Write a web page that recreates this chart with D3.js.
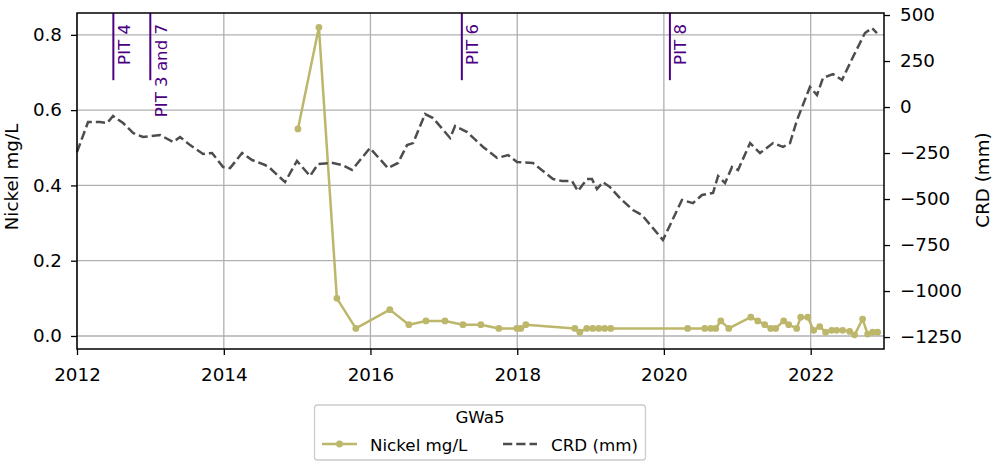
<!DOCTYPE html>
<html>
<head>
<meta charset="utf-8">
<script src="https://cdn.jsdelivr.net/npm/d3@7"></script>
<style>
	body { margin: 0; background: #fff; }
	svg text { font-family: "DejaVu Sans", sans-serif; }
	.axis path.domain { display: none; }
	.axis line { stroke: #000; stroke-width: 1.3; }
	.axis text { font-size: 18.3px; fill: #000; }
</style>
</head>
<body>
<svg id="svg_chart"></svg>
<script>

// ====================================================
// data (decimal years)
var nickel_years = [2015.011, 2015.297, 2015.542, 2015.801, 2016.264, 2016.523, 2016.755, 2017.014,
	2017.259, 2017.504, 2017.749, 2017.995, 2018.049, 2018.117, 2018.785, 2018.853, 2018.948,
	2019.030, 2019.112, 2019.193, 2019.275, 2020.324, 2020.556, 2020.638, 2020.706, 2020.774,
	2020.883, 2021.183, 2021.278, 2021.373, 2021.455, 2021.523, 2021.632, 2021.700, 2021.809,
	2021.864, 2021.959, 2022.041, 2022.123, 2022.204, 2022.286, 2022.354, 2022.436, 2022.531,
	2022.599, 2022.708, 2022.777, 2022.845, 2022.913];
var nickel_values = [0.55, 0.82, 0.10, 0.02, 0.07, 0.03, 0.04, 0.04,
	0.03, 0.03, 0.02, 0.02, 0.02, 0.03, 0.02, 0.01, 0.02,
	0.02, 0.02, 0.02, 0.02, 0.02, 0.02, 0.02, 0.02, 0.04,
	0.02, 0.05, 0.04, 0.03, 0.02, 0.02, 0.04, 0.03, 0.02,
	0.05, 0.05, 0.015, 0.025, 0.01, 0.015, 0.015, 0.015, 0.012,
	0.003, 0.045, 0.005, 0.01, 0.01];

var crd_years = [2012.000, 2012.150, 2012.313, 2012.409, 2012.491, 2012.627, 2012.763, 2012.899,
	2013.131, 2013.308, 2013.404, 2013.540, 2013.717, 2013.840, 2013.990, 2014.085, 2014.249,
	2014.385, 2014.562, 2014.630, 2014.835, 2014.998, 2015.176, 2015.285, 2015.489, 2015.612,
	2015.748, 2015.993, 2016.239, 2016.375, 2016.498, 2016.580, 2016.743, 2016.852, 2017.084,
	2017.152, 2017.316, 2017.534, 2017.725, 2017.875, 2017.997, 2018.215, 2018.488, 2018.610,
	2018.747, 2018.828, 2018.951, 2019.019, 2019.087, 2019.169, 2019.265, 2019.401, 2019.578,
	2019.701, 2019.851, 2019.987, 2020.246, 2020.396, 2020.519, 2020.669, 2020.737, 2020.832,
	2020.927, 2021.009, 2021.173, 2021.309, 2021.486, 2021.622, 2021.718, 2021.813, 2021.990,
	2022.086, 2022.168, 2022.304, 2022.427, 2022.577, 2022.740, 2022.836, 2022.904];
var crd_values = [-245, -82, -82, -87, -49, -87, -141, -163,
	-152, -190, -163, -207, -255, -250, -326, -332, -250,
	-288, -315, -332, -408, -293, -375, -310, -304, -315,
	-342, -223, -332, -304, -207, -196, -38, -60, -168,
	-103, -136, -217, -277, -261, -299, -304, -391, -402,
	-402, -457, -391, -391, -446, -408, -435, -495, -560,
	-587, -658, -723, -505, -522, -478, -467, -375, -413,
	-326, -342, -196, -250, -196, -217, -196, -71, 109,
	65, 158, 179, 147, 272, 402, 429, 402];

var pit_dates = ["2012-06-30", "2012-12-31", "2017-03-31", "2020-01-31"];
var pit_labels = ["PIT 4", "PIT 3 and 7", "PIT 6", "PIT 8"];

var x_tick_years = [2012, 2014, 2016, 2018, 2020, 2022];
var nickel_ticks = [0.0, 0.2, 0.4, 0.6, 0.8];
var crd_ticks = [-1250, -1000, -750, -500, -250, 0, 250, 500];

var series_title = "GWa5";
var nickel_name = "Nickel mg/L";
var crd_name = "CRD (mm)";

// ====================================================

function fn_dec_year(v) {
	var y = Math.floor(v);
	var s = new Date(y, 0, 1), e = new Date(y + 1, 0, 1);
	return new Date(+s + (v - y) * (e - s));
}

var width = 1001, height = 473;
var plot = {left: 77, top: 13, right: 884, bottom: 349};

var col_nickel = "#bdb76b";
var col_crd = "#4d4d4d";
var col_pit = "#4b0082";

var svg = d3.select("svg#svg_chart")
	.attr("width", width)
	.attr("height", height);

var x = d3.scaleTime()
	.domain([new Date(2012, 0, 1), new Date(2023, 0, 1)])
	.range([plot.left, plot.right]);

var y_left = d3.scaleLinear()
	.domain([-0.0346, 0.858])
	.range([plot.bottom, plot.top]);

var y_right = d3.scaleLinear()
	.domain([-1315, 511])
	.range([plot.bottom, plot.top]);

// axes fraction, used for the PIT marks
var y_frac = d3.scaleLinear().domain([0, 1]).range([plot.bottom, plot.top]);

// ====================================================
// grid
var g_grid = svg.append("g").attr("class", "grid");

g_grid.selectAll("line.vgrid")
	.data(x_tick_years)
	.enter().append("line")
	.attr("x1", function(d) { return x(new Date(d, 0, 1)); })
	.attr("x2", function(d) { return x(new Date(d, 0, 1)); })
	.attr("y1", plot.top)
	.attr("y2", plot.bottom)
	.attr("stroke", "#b0b0b0")
	.attr("stroke-width", 1.3);

g_grid.selectAll("line.hgrid")
	.data(nickel_ticks)
	.enter().append("line")
	.attr("x1", plot.left)
	.attr("x2", plot.right)
	.attr("y1", function(d) { return y_left(d); })
	.attr("y2", function(d) { return y_left(d); })
	.attr("stroke", "#b0b0b0")
	.attr("stroke-width", 1.3);

// ====================================================
// PIT marks
var pit = svg.append("g").attr("class", "pit")
	.selectAll("g")
	.data(pit_dates.map(function(d, i) { return {date: d3.timeParse("%Y-%m-%d")(d), label: pit_labels[i]}; }))
	.enter().append("g");

pit.append("line")
	.attr("x1", function(d) { return x(d.date); })
	.attr("x2", function(d) { return x(d.date); })
	.attr("y1", y_frac(0.8))
	.attr("y2", y_frac(1))
	.attr("stroke", col_pit)
	.attr("stroke-width", 2);

pit.append("text")
	.attr("transform", function(d) { return "translate(" + (x(d.date) + 16.5) + "," + 24 + ") rotate(-90)"; })
	.attr("text-anchor", "end")
	.attr("font-size", "16.6px")
	.attr("fill", col_pit)
	.text(function(d) { return d.label; });

// ====================================================
// nickel series
var nickel_data = nickel_years.map(function(d, i) { return {date: fn_dec_year(d), v: nickel_values[i]}; });

var line_nickel = d3.line()
	.x(function(d) { return x(d.date); })
	.y(function(d) { return y_left(d.v); });

svg.append("path")
	.datum(nickel_data)
	.attr("d", line_nickel)
	.attr("fill", "none")
	.attr("stroke", col_nickel)
	.attr("stroke-width", 2.5)
	.attr("stroke-linejoin", "round");

svg.append("g").selectAll("circle")
	.data(nickel_data)
	.enter().append("circle")
	.attr("cx", function(d) { return x(d.date); })
	.attr("cy", function(d) { return y_left(d.v); })
	.attr("r", 3.4)
	.attr("fill", col_nickel);

// ====================================================
// CRD series
var crd_data = crd_years.map(function(d, i) { return {date: fn_dec_year(d), v: crd_values[i]}; });

var line_crd = d3.line()
	.x(function(d) { return x(d.date); })
	.y(function(d) { return y_right(d.v); });

svg.append("path")
	.datum(crd_data)
	.attr("d", line_crd)
	.attr("fill", "none")
	.attr("stroke", col_crd)
	.attr("stroke-width", 2.5)
	.attr("stroke-dasharray", "9.25,4");

// ====================================================
// axes
svg.append("g")
	.attr("class", "axis axis--x")
	.attr("transform", "translate(0," + plot.bottom + ")")
	.call(d3.axisBottom(x)
		.tickValues(x_tick_years.map(function(d) { return new Date(d, 0, 1); }))
		.tickFormat(d3.timeFormat("%Y"))
		.tickSize(6)
		.tickPadding(13));

svg.append("g")
	.attr("class", "axis axis--left")
	.attr("transform", "translate(" + plot.left + ",0)")
	.call(d3.axisLeft(y_left)
		.tickValues(nickel_ticks)
		.tickFormat(d3.format(".1f"))
		.tickSize(6)
		.tickPadding(9));

svg.append("g")
	.attr("class", "axis axis--right")
	.attr("transform", "translate(" + plot.right + ",0)")
	.call(d3.axisRight(y_right)
		.tickValues(crd_ticks)
		.tickFormat(function(d) { return d3.format("d")(d).replace("-", "\u2212"); })
		.tickSize(6)
		.tickPadding(10));

// the frame
svg.append("rect")
	.attr("x", plot.left)
	.attr("y", plot.top)
	.attr("width", plot.right - plot.left)
	.attr("height", plot.bottom - plot.top)
	.attr("fill", "none")
	.attr("stroke", "#000")
	.attr("stroke-width", 1.5);

// axis titles
svg.append("text")
	.attr("transform", "translate(18," + 177 + ") rotate(-90)")
	.attr("text-anchor", "middle")
	.attr("font-size", "18.3px")
	.text(nickel_name);

svg.append("text")
	.attr("transform", "translate(989," + 180 + ") rotate(-90)")
	.attr("text-anchor", "middle")
	.attr("font-size", "18.3px")
	.text(crd_name);

// ====================================================
// legend
var legend = svg.append("g").attr("class", "legend");

legend.append("rect")
	.attr("x", 314.5)
	.attr("y", 405)
	.attr("width", 331)
	.attr("height", 55)
	.attr("rx", 3)
	.attr("fill", "#fff")
	.attr("stroke", "#cccccc")
	.attr("stroke-width", 1.3);

legend.append("text")
	.attr("x", 480)
	.attr("y", 423)
	.attr("text-anchor", "middle")
	.attr("font-size", "16.7px")
	.text(series_title);

legend.append("line")
	.attr("x1", 322).attr("x2", 357)
	.attr("y1", 444).attr("y2", 444)
	.attr("stroke", col_nickel)
	.attr("stroke-width", 2.5);

legend.append("circle")
	.attr("cx", 339.5).attr("cy", 444)
	.attr("r", 3.4)
	.attr("fill", col_nickel);

legend.append("text")
	.attr("x", 370).attr("y", 451)
	.attr("font-size", "16.7px")
	.text(nickel_name);

legend.append("line")
	.attr("x1", 503).attr("x2", 537)
	.attr("y1", 444).attr("y2", 444)
	.attr("stroke", col_crd)
	.attr("stroke-width", 2.5)
	.attr("stroke-dasharray", "9.25,4");

legend.append("text")
	.attr("x", 551).attr("y", 451)
	.attr("font-size", "16.7px")
	.text(crd_name);

</script>
</body>
</html>
